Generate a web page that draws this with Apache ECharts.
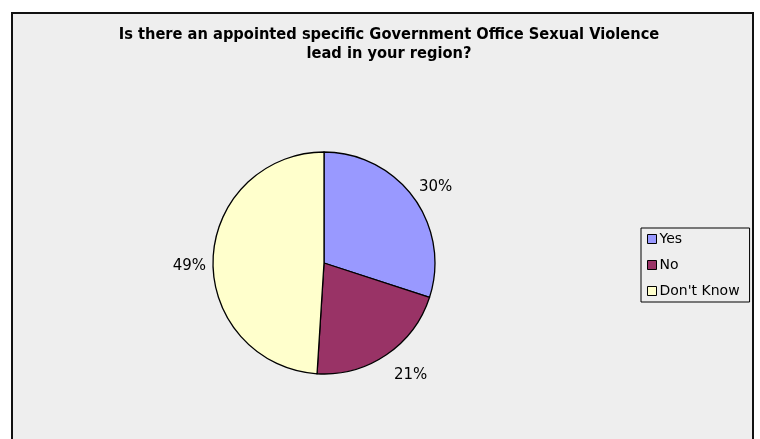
<!DOCTYPE html>
<html>
<head>
<meta charset="utf-8">
<script src="https://cdn.jsdelivr.net/npm/echarts@6/dist/echarts.min.js"></script>
<style>
  html, body { margin: 0; padding: 0; background: #ffffff; }
  #chart { width: 760px; height: 439px; }
</style>
</head>
<body>
<div id="chart"></div>
<script>
// Survey answers and their shares (%)
const categories = ['Yes', 'No', "Don't Know"];
const shares = [30, 21, 49];
const sliceColors = ['#9999FF', '#993366', '#FFFFCC'];
const titleLines = [
  'Is there an appointed specific Government Office Sexual Violence',
  'lead in your region?'
];
// small nudges for the outside value labels, per slice
const labelNudges = [[-8, -5], [-3, 12], [8, 7]];

const chart = echarts.init(document.getElementById('chart'), null, { renderer: 'canvas' });

const pieData = categories.map((name, i) => ({
  name: name,
  value: shares[i],
  itemStyle: { color: sliceColors[i] }
}));

chart.setOption({
  backgroundColor: '#ffffff',
  animation: false,
  graphic: [{
    type: 'rect',
    z: -10,
    shape: { x: 12, y: 13, width: 741, height: 440 },
    style: { fill: '#EEEEEE', stroke: '#111111', lineWidth: 2 }
  }],
  title: {
    text: titleLines.join('\n'),
    left: 384,
    textAlign: 'center',
    top: 20,
    textStyle: {
      fontFamily: 'DejaVu Sans Condensed',
      fontWeight: 'bold',
      fontSize: 16.3,
      lineHeight: 19,
      color: '#000000'
    }
  },
  legend: {
    orient: 'vertical',
    left: 641,
    top: 228,
    padding: [4, 10, 4, 6],
    backgroundColor: '#EEEEEE',
    borderColor: '#000000',
    borderWidth: 1,
    borderRadius: 0,
    itemWidth: 9,
    itemHeight: 9,
    itemGap: 12,
    icon: 'rect',
    itemStyle: { borderColor: '#000000', borderWidth: 1 },
    textStyle: {
      fontFamily: 'DejaVu Sans',
      fontSize: 14,
      lineHeight: 14,
      color: '#000000',
      padding: [0, 0, 0, -2]
    },
    data: categories
  },
  series: [{
    type: 'pie',
    center: [324, 263],
    radius: 111,
    startAngle: 90,
    clockwise: true,
    silent: true,
    itemStyle: { borderColor: '#000000', borderWidth: 1.3 },
    label: {
      show: true,
      position: 'outside',
      formatter: '{c}%',
      fontFamily: 'DejaVu Sans',
      fontSize: 15,
      color: '#000000'
    },
    labelLine: { show: false, length: 10, length2: 0 },
    labelLayout: function (params) {
      const n = labelNudges[params.dataIndex];
      return { dx: n[0], dy: n[1] };
    },
    data: pieData
  }]
});
</script>
</body>
</html>
